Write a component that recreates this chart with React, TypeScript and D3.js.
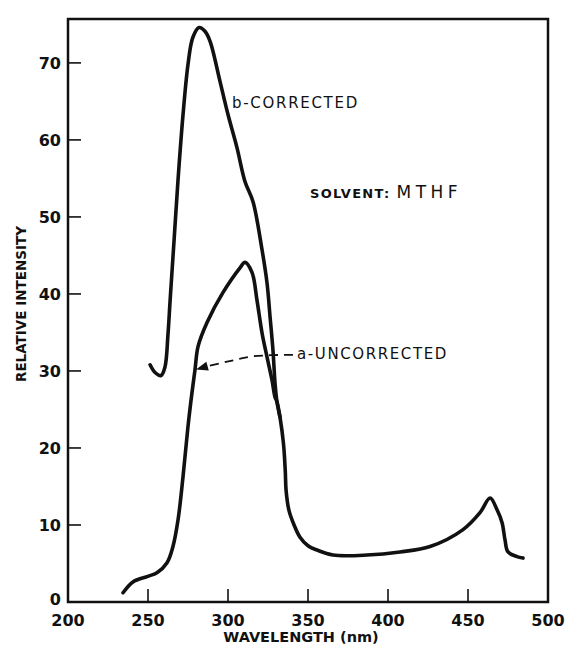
import React from "react";
import * as d3 from "d3";

// Curve a — uncorrected emission (wavelength nm, relative intensity)
const uncorrectedWl = [234.4, 240.6, 249.4, 255.6, 261.9, 265.6, 268.8, 271.9, 275.0, 277.5, 279.4, 281.3, 286.9, 296.9, 307.5, 310.6, 315.0, 318.1, 321.3, 324.4, 327.5, 329.4, 330.6, 332.5, 334.7, 335.8, 336.3, 338.1, 341.3, 345.0, 350.0, 355.6, 365.6, 386.9, 407.5, 426.3, 446.9, 457.5, 463.8, 468.1, 471.3, 473.1, 475.0, 480.6, 484.4];
const uncorrectedI = [1.2, 2.6, 3.3, 3.8, 5.1, 7.2, 10.7, 16.3, 22.8, 27.2, 30.2, 33.2, 36.3, 40.2, 43.4, 44.1, 42.8, 39.2, 34.9, 31.8, 28.8, 26.6, 26.0, 24.0, 20.5, 17.0, 14.5, 11.9, 10.0, 8.4, 7.3, 6.75, 6.1, 6.1, 6.5, 7.2, 9.4, 11.6, 13.5, 12.0, 10.3, 8.1, 6.5, 5.9, 5.7];

// Curve b — corrected emission
const correctedWl = [251.3, 254.4, 258.1, 260.6, 262.5, 263.8, 266.3, 268.8, 271.9, 275.0, 278.0, 281.9, 285.6, 288.8, 295.0, 300.0, 305.6, 310.6, 315.6, 321.3, 324.4, 326.3, 328.1, 329.4, 330.6, 332.5];
const correctedI = [30.8, 29.8, 29.4, 30.5, 34.8, 39.1, 47.0, 54.9, 63.3, 69.8, 73.3, 74.6, 74.1, 72.8, 67.6, 63.3, 59.0, 54.6, 52.0, 45.7, 41.4, 37.0, 32.7, 28.4, 26.0, 24.0];

// Dashed leader from label "a-UNCORRECTED" to curve a
const arrowWl = [340.6, 315.6, 299.4, 286.9, 280.0];
const arrowI = [32.1, 31.9, 31.2, 30.6, 30.2];

const xTicks = [200, 250, 300, 350, 400, 450, 500];
const yTicks = [0, 10, 20, 30, 40, 50, 60, 70];

const W = 565;
const H = 647;
const INK = "#111";
const FONT = "'DejaVu Sans', sans-serif";

export default function App() {
  const x = d3.scaleLinear().domain([200, 500]).range([68, 548]);
  const y = d3.scaleLinear().domain([0, 75.7]).range([602, 19]);

  const line = d3
    .line<[number, number]>()
    .x((d) => x(d[0]))
    .y((d) => y(d[1]))
    .curve(d3.curveCatmullRom.alpha(0.5));

  const a: [number, number][] = uncorrectedWl.map((w, i) => [w, uncorrectedI[i]]);
  const b: [number, number][] = correctedWl.map((w, i) => [w, correctedI[i]]);
  const arr: [number, number][] = arrowWl.map((w, i) => [w, arrowI[i]]);

  // arrowhead
  const n = arr.length;
  const tx = x(arr[n - 1][0]);
  const ty = y(arr[n - 1][1]);
  const px = x(arr[n - 2][0]);
  const py = y(arr[n - 2][1]);
  const ang = Math.atan2(ty - py, tx - px);
  const L = 12;
  const Wd = 4.5;
  const bx = tx - L * Math.cos(ang);
  const by = ty - L * Math.sin(ang);
  const head = [
    [tx, ty],
    [bx + Wd * Math.sin(ang), by - Wd * Math.cos(ang)],
    [bx - Wd * Math.sin(ang), by + Wd * Math.cos(ang)],
  ]
    .map((p) => p.join(","))
    .join(" ");
  const arrBody: [number, number][] = arr
    .slice(0, n - 1)
    .concat([[x.invert(bx + 2 * Math.cos(ang)), y.invert(by + 2 * Math.sin(ang))]]);

  const [x0, x1] = x.range();
  const [y0, y1] = y.range();

  return (
    <>
      <style>{`body{margin:0;background:#fff}`}</style>
      <svg width={W} height={H} viewBox={`0 0 ${W} ${H}`} style={{ display: "block", background: "#fff" }}>
        {/* frame */}
        <rect x={x0} y={y1} width={x1 - x0} height={y0 - y1} fill="none" stroke={INK} strokeWidth={2.5} />

        {/* x ticks */}
        {xTicks.map((t) => (
          <g key={"xt" + t}>
            {t !== 200 && t !== 500 && (
              <line x1={x(t)} x2={x(t)} y1={y0} y2={y0 - 13} stroke={INK} strokeWidth={1.6} />
            )}
            <text x={x(t)} y={626} textAnchor="middle" fontFamily={FONT} fontWeight="bold" fontSize={16} fill={INK}>
              {t}
            </text>
          </g>
        ))}

        {/* y ticks */}
        {yTicks.map((t) => (
          <g key={"yt" + t}>
            {t !== 0 && <line x1={x0} x2={x0 + 13} y1={y(t)} y2={y(t)} stroke={INK} strokeWidth={1.6} />}
            <text
              x={61}
              y={t === 0 ? y(t) - 3 : y(t)}
              dy="0.36em"
              textAnchor="end"
              fontFamily={FONT}
              fontWeight="bold"
              fontSize={16}
              fill={INK}
            >
              {t}
            </text>
          </g>
        ))}

        {/* axis titles */}
        <text x={301} y={642} textAnchor="middle" fontFamily={FONT} fontWeight="bold" fontSize={14.5} fill={INK}>
          WAVELENGTH (nm)
        </text>
        <text
          transform={`translate(26,304) rotate(-90)`}
          textAnchor="middle"
          fontFamily={FONT}
          fontWeight="bold"
          fontSize={13.5}
          fill={INK}
        >
          RELATIVE INTENSITY
        </text>

        {/* curves */}
        <path d={line(b) || ""} fill="none" stroke={INK} strokeWidth={3.6} strokeLinecap="round" strokeLinejoin="round" />
        <path d={line(a) || ""} fill="none" stroke={INK} strokeWidth={3.6} strokeLinecap="round" strokeLinejoin="round" />

        {/* leader arrow */}
        <path d={line(arrBody) || ""} fill="none" stroke={INK} strokeWidth={1.8} strokeDasharray="9 6" />
        <polygon points={head} fill={INK} />

        {/* labels */}
        <text x={232} y={108} fontFamily={FONT} fontSize={15} letterSpacing={1.7} fill={INK}>
          b-CORRECTED
        </text>
        <text x={310} y={198} fontFamily={FONT} fill={INK}>
          <tspan fontSize={13} fontWeight="bold" letterSpacing={1.3}>SOLVENT:</tspan>
          <tspan fontSize={17} dx={6} letterSpacing={4.5}>MTHF</tspan>
        </text>
        <text x={297} y={359} fontFamily={FONT} fontSize={15} letterSpacing={1.6} fill={INK}>
          a-UNCORRECTED
        </text>
      </svg>
    </>
  );
}
